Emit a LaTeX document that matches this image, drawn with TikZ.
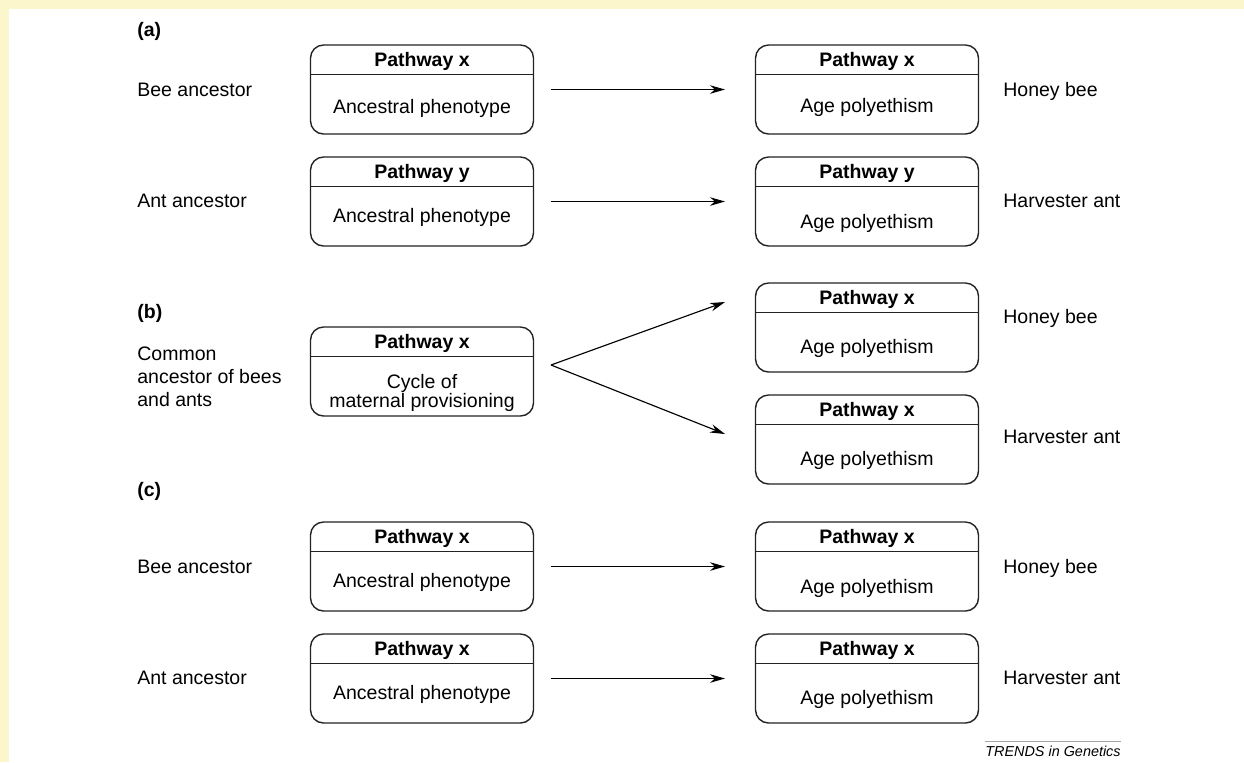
\documentclass[tikz,border=0pt]{standalone}
\usepackage{fontspec}
\setmainfont{Liberation Sans}
\usepackage{xcolor}
\usetikzlibrary{arrows.meta}
\definecolor{frameyellow}{RGB}{251,246,204}
\definecolor{boxline}{RGB}{35,35,35}

\begin{document}
\begin{tikzpicture}[x=0.02cm, y=-0.02cm,
  pbox/.style={draw=boxline, line width=0.8pt, rounded corners=0.26cm, minimum width=4.46cm, minimum height=1.78cm, inner sep=0pt, outer sep=0pt},
  head/.style={anchor=north, minimum width=4.46cm, minimum height=0.59cm, inner sep=0pt, outer sep=0pt, text height=7.95pt, text depth=0pt, font=\fontsize{11.1}{13}\selectfont\bfseries},
  body/.style={anchor=base, inner sep=0pt, align=center, font=\fontsize{11.1}{10.8}\selectfont},
  sepline/.style={draw=boxline, line width=0.8pt},
  lbl/.style={anchor=base west, inner sep=0pt, align=left, font=\fontsize{11.1}{13}\selectfont},
  tag/.style={lbl, font=\fontsize{11.1}{13}\selectfont\bfseries},
  arr/.style={-{Stealth[length=0.3cm, width=0.17cm]}, line width=0.65pt},
  credit/.style={anchor=base east, inner sep=0pt, font=\fontsize{8.2}{10}\selectfont\itshape}]
\useasboundingbox (0,0) rectangle (1244,762);
\fill[white] (0,0) rectangle (1244,762);
\fill[frameyellow] (0,0) rectangle (1244,9);
\fill[frameyellow] (0,0) rectangle (9,762);

% (a)
\node[tag] (taga) at (137,36) {(a)};
\node[lbl] (beea) at (137,96.5) {Bee ancestor};
\node[lbl] (anta) at (137,207) {Ant ancestor};
\node[pbox] (a1l) at (422,89.5) {};
\node[head] (a1lh) at (a1l.north) {Pathway x};
\node[body] (a1lb) at (422,113) {Ancestral phenotype};
\node[pbox] (a1r) at (867,89.5) {};
\node[head] (a1rh) at (a1r.north) {Pathway x};
\node[body] (a1rb) at (867,112) {Age polyethism};
\node[pbox] (a2l) at (422,201.5) {};
\node[head] (a2lh) at (a2l.north) {Pathway y};
\node[body] (a2lb) at (422,222) {Ancestral phenotype};
\node[pbox] (a2r) at (867,201.5) {};
\node[head] (a2rh) at (a2r.north) {Pathway y};
\node[body] (a2rb) at (867,228) {Age polyethism};
\node[lbl] (honeya) at (1003,96) {Honey bee};
\node[lbl] (harva) at (1003,207) {Harvester ant};
\draw[arr] ([xshift=0.35cm]a1l.east) -- ([xshift=-0.61cm]a1r.west);
\draw[arr] ([xshift=0.35cm]a2l.east) -- ([xshift=-0.61cm]a2r.west);

% (b)
\node[tag] (tagb) at (137,318) {(b)};
\node[lbl] (commonb) at (137,406) {Common\\ancestor of bees\\and ants};
\node[pbox] (bl) at (422,371.5) {};
\node[head] (blh) at (bl.north) {Pathway x};
\node[body] (blb) at (422,407) {Cycle of\\maternal provisioning};
\node[pbox] (br1) at (867,327.5) {};
\node[head] (br1h) at (br1.north) {Pathway x};
\node[body] (br1b) at (867,353) {Age polyethism};
\node[pbox] (br2) at (867,439.5) {};
\node[head] (br2h) at (br2.north) {Pathway x};
\node[body] (br2b) at (867,465) {Age polyethism};
\node[lbl] (honeyb) at (1003,323) {Honey bee};
\node[lbl] (harvb) at (1003,443) {Harvester ant};
\coordinate (fork) at ([xshift=0.35cm, yshift=0.13cm]bl.east);
\coordinate (forkup) at ([xshift=-0.61cm, yshift=0.51cm]br1.west);
\coordinate (forkdown) at ([xshift=-0.61cm, yshift=0.11cm]br2.west);
\draw[arr] (fork) -- (forkup);
\draw[arr] (fork) -- (forkdown);

% (c)
\node[tag] (tagc) at (137,496) {(c)};
\node[lbl] (beec) at (137,573) {Bee ancestor};
\node[lbl] (antc) at (137,684) {Ant ancestor};
\node[pbox] (c1l) at (422,566.5) {};
\node[head] (c1lh) at (c1l.north) {Pathway x};
\node[body] (c1lb) at (422,587.5) {Ancestral phenotype};
\node[pbox] (c1r) at (867,566.5) {};
\node[head] (c1rh) at (c1r.north) {Pathway x};
\node[body] (c1rb) at (867,593) {Age polyethism};
\node[pbox] (c2l) at (422,678.5) {};
\node[head] (c2lh) at (c2l.north) {Pathway x};
\node[body] (c2lb) at (422,699) {Ancestral phenotype};
\node[pbox] (c2r) at (867,678.5) {};
\node[head] (c2rh) at (c2r.north) {Pathway x};
\node[body] (c2rb) at (867,704.5) {Age polyethism};
\node[lbl] (honeyc) at (1003,573) {Honey bee};
\node[lbl] (harvc) at (1003,684) {Harvester ant};
\draw[arr] ([xshift=0.35cm]c1l.east) -- ([xshift=-0.61cm]c1r.west);
\draw[arr] ([xshift=0.35cm]c2l.east) -- ([xshift=-0.61cm]c2r.west);

% header rules
\foreach \n in {a1l,a1r,a2l,a2r,bl,br1,br2,c1l,c1r,c2l,c2r}
  \draw[sepline] (\n h.south west) -- (\n h.south east);

\node[credit] (credit) at (1121,756) {TRENDS in Genetics};
\draw[gray!70, line width=0.5pt] ([yshift=0.075cm]credit.north west) -- ([yshift=0.075cm]credit.north east);
\end{tikzpicture}
\end{document}
